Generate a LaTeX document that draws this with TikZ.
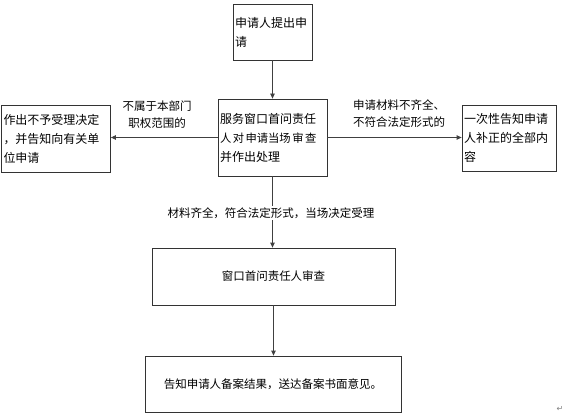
\documentclass[tikz,border=0pt]{standalone}
\usepackage{fontspec}
\newfontfamily\cjk{Noto Sans CJK SC}
\newfontfamily\dejavu{DejaVu Sans}
\usetikzlibrary{arrows.meta}
\begin{document}
\begin{tikzpicture}[x=1pt,y=-1pt,
  box/.style={draw=black!80, line width=0.8pt, inner xsep=2pt, inner ysep=0pt,
    align=left, font=\cjk\fontsize{12}{19}\selectfont},
  wbox/.style={draw=black!80, line width=0.8pt, inner sep=0pt, align=center,
    font=\cjk\fontsize{11.5}{18}\selectfont},
  lbl/.style={inner sep=1pt, font=\cjk\fontsize{11.5}{17}\selectfont},
  arr/.style={draw=black!75, line width=0.8pt, -{Triangle[length=5pt,width=4.5pt]}}
]
\useasboundingbox (0,0) rectangle (566,420);
\node[box, text width=75pt, minimum width=79pt, minimum height=56pt] (b1) at (272.5,32) {申请人提出申\\请};
\node[box, text width=105pt, minimum width=109pt, minimum height=77pt] (b2) at (272.5,137.5) {服务窗口首问责任\\\mbox{\fontsize{11.3}{19}\selectfont 人\hspace{1.5pt}对\hspace{1.5pt}申请当场\hspace{1.5pt}审\hspace{1.5pt}查}\\并作出处理};
\node[box, text width=105pt, minimum width=109pt, minimum height=67pt] (bl) at (56,138.5) {作出不予受理决定\\，并告知向有关单\\位申请};
\node[box, text width=90pt, minimum width=94pt, minimum height=66pt] (br) at (509,138) {一次性告知申请\\人补正的全部内\\容};
\node[wbox, minimum width=243pt, minimum height=57pt] (b3) at (273.5,276.5) {窗口首问责任人审查};
\node[wbox, minimum width=256pt, minimum height=56pt] (b4) at (273,384) {告知申请人备案结果，送达备案书面意见。};

\draw[arr] (b1.south) -- (b2.north);
\draw[arr] (b2.south) -- (b2.south |- b3.north);
\draw[arr] (b3.south) -- (b3.south |- b4.north);
\draw[arr] (b2.west) -- (b2.west -| bl.east);
\draw[arr] (b2.east) -- (b2.east -| br.west);

\node[lbl, align=center] (l1) at (157,115) {不属于本部门\\职权范围的};
\node[lbl, align=left, anchor=west] (l2) at (352,114) {申请材料不齐全、\\不符合法定形式的};
\node[lbl, fill=white] (l3) at (271,213) {材料齐全，符合法定形式，当场决定受理};
\node[font=\dejavu\fontsize{8}{8}\selectfont, text=black!50, inner sep=0pt] (pm) at (560,409) {↵};
\end{tikzpicture}
\end{document}
